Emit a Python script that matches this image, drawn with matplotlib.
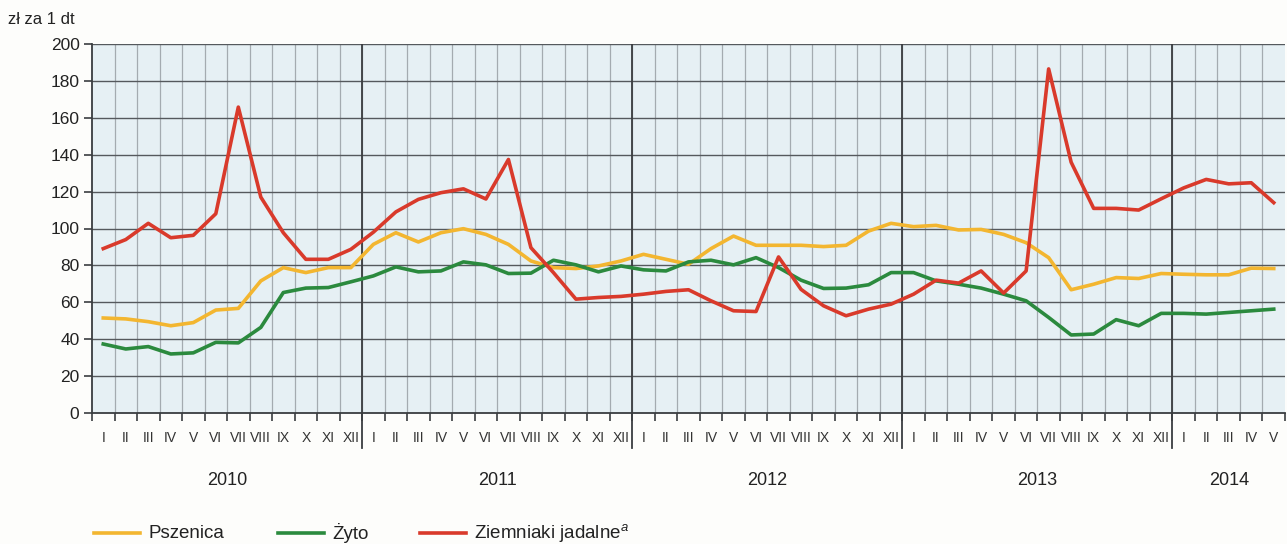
import matplotlib
matplotlib.use("Agg")
import matplotlib.pyplot as plt
import numpy as np

plt.rcParams["font.family"] = ["Liberation Sans", "DejaVu Sans"]
plt.rcParams["mathtext.fontset"] = "custom"
plt.rcParams["mathtext.it"] = "Liberation Sans:italic"
plt.rcParams["mathtext.rm"] = "Liberation Sans"

years = ["2010", "2011", "2012", "2013", "2014"]
months_per_year = [12, 12, 12, 12, 5]
roman = ["I", "II", "III", "IV", "V", "VI", "VII", "VIII", "IX", "X", "XI", "XII"]

pszenica = [51.5, 51.0, 49.5, 47.3, 49.0, 55.8, 56.7, 71.6, 78.8, 76.1, 78.8, 78.8,
            91.4, 97.7, 92.7, 97.7, 99.9, 96.8, 91.4, 82.4, 78.8, 78.3, 79.7, 82.4,
            86.0, 83.3, 80.6, 89.1, 95.9, 90.9, 90.9, 90.9, 90.2, 90.9, 98.6, 102.8,
            101.0, 101.7, 99.2, 99.5, 96.8, 92.3, 84.2, 66.8, 69.8, 73.4, 72.9, 75.6,
            75.2, 74.9, 74.9, 78.5, 78.3]
zyto = [37.4, 34.7, 36.0, 32.0, 32.6, 38.3, 38.0, 46.4, 65.3, 67.7, 68.0, 71.1,
        74.3, 79.2, 76.5, 77.0, 81.9, 80.3, 75.6, 75.8, 82.8, 80.3, 76.5, 79.7,
        77.6, 77.0, 81.9, 82.8, 80.3, 84.2, 78.8, 72.0, 67.5, 67.7, 69.5, 76.1,
        76.1, 71.6, 69.8, 67.7, 64.4, 60.8, 51.8, 42.3, 42.8, 50.6, 47.3, 54.0,
        54.0, 53.6, 54.5, 55.4, 56.3]
ziemniaki = [89.1, 94.0, 102.8, 95.0, 96.3, 108.0, 165.8, 117.0, 97.7, 83.3, 83.3, 88.7,
             98.0, 109.0, 115.8, 119.4, 121.5, 116.0, 137.4, 89.6, 76.1, 61.7, 62.6, 63.2,
             64.4, 65.9, 66.8, 60.8, 55.4, 55.0, 84.6, 67.0, 58.1, 52.7, 56.3, 59.0,
             64.4, 72.0, 70.4, 77.0, 65.0, 77.0, 186.5, 135.9, 110.9, 110.9, 110.0, 116.1,
             122.0, 126.6, 124.2, 124.8, 114.0]

c_yellow = "#f3b630"
c_green = "#2b8a3e"
c_red = "#d93a2b"

fig = plt.figure(figsize=(12.87, 5.44), dpi=100)
fig.patch.set_facecolor("#fdfdfb")
ax = fig.add_axes([92/1287, 1-413/544, (1285-92)/1287, (413-44)/544])
ax.set_facecolor("#e6f0f4")

n = sum(months_per_year)
x = np.arange(n) + 0.5
ax.set_xlim(0, n)
ax.set_ylim(0, 200)

# grid
for xv in range(1, n):
    ax.axvline(xv, color="#a4abb0", lw=0.9, zorder=1)
for yv in range(20, 201, 20):
    ax.axhline(yv, color="#55595d", lw=1.0, zorder=1)

bounds = np.cumsum(months_per_year)[:-1]

lw = 2.6
ax.plot(x, pszenica, color=c_yellow, lw=lw, zorder=3)
ax.plot(x, zyto, color=c_green, lw=lw, zorder=3)
ax.plot(x, ziemniaki, color=c_red, lw=lw, zorder=4)

for b in bounds:
    ax.plot([b, b], [0, 200], color="#3a3d40", lw=1.3, zorder=2)
    ax.plot([b, b], [0, -19], color="#3a3d40", lw=1.3, zorder=2, clip_on=False)

for sp in ["top", "right"]:
    ax.spines[sp].set_visible(False)
ax.spines["left"].set_color("#3a3d40")
ax.spines["bottom"].set_color("#3a3d40")
ax.spines["left"].set_linewidth(1.3)
ax.spines["bottom"].set_linewidth(1.3)

ax.set_yticks(range(0, 201, 20))
ax.tick_params(axis="y", length=6, width=1.2, color="#3a3d40", labelsize=12.5, pad=3,
               labelcolor="#222222")
ax.set_xticks(np.arange(0, n + 1))
ax.set_xticklabels([])
ax.tick_params(axis="x", length=6, width=1.2, color="#3a3d40")

labels = []
for m in months_per_year:
    labels += roman[:m]
for xi, lab in zip(x, labels):
    ax.text(xi, -13.5, lab, ha="center", va="center", fontsize=10, color="#333333")

start = 0
for yr, m in zip(years, months_per_year):
    ax.text(start + m / 2, -36.5, yr, ha="center", va="center", fontsize=13, color="#222222")
    start += m

fig.text(8/1287, 1-20/544, "zł za 1 dt", fontsize=12, color="#222222", va="center", ha="left")

# legend
ly = 1 - 533/544
items = [("Pszenica", c_yellow, 94), ("Żyto", c_green, 278), ("Ziemniaki jadalne$^{a}$", c_red, 420)]
for lab, col, x0 in items:
    fig.add_artist(plt.Line2D([x0/1287, (x0+46)/1287], [ly, ly], color=col, lw=2.6))
    fig.text((x0+54)/1287, ly, lab, fontsize=13.5, va="center", ha="left", color="#222222")

fig.savefig("out.png", dpi=100, facecolor=fig.get_facecolor())
